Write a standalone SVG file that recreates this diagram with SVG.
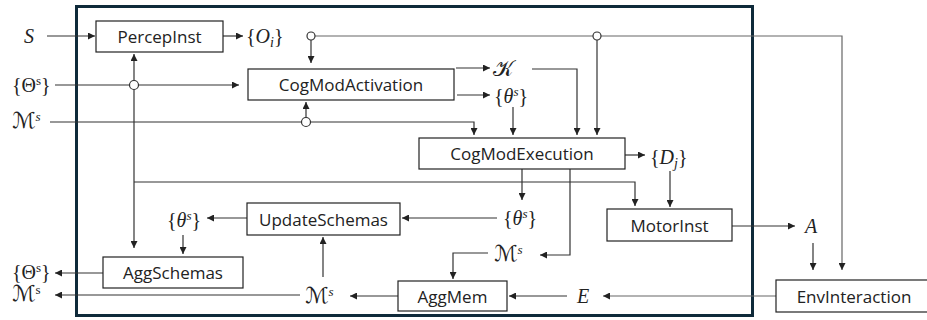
<svg xmlns="http://www.w3.org/2000/svg" width="927" height="320" viewBox="0 0 927 320">
<style>
.box{fill:#fff;stroke:#222;stroke-width:1.2}
.lbl{font-family:"Open Sans","Liberation Sans",sans-serif;font-size:17px;fill:#222;text-anchor:middle;dominant-baseline:central}
.m{font-family:"Liberation Serif","DejaVu Serif",serif;font-size:20px;fill:#222}
.it{font-style:italic}
.sc{font-family:"DejaVu Sans","DejaVu Serif",serif;font-style:normal;font-size:22px}
.sup{font-size:13px}
.c{fill:none;stroke:#333;stroke-width:1.2}
.g{stroke:#666}
.j{fill:#fff;stroke:#333;stroke-width:1.2}
</style>
<defs>
<marker id="ah" markerUnits="userSpaceOnUse" markerWidth="8" markerHeight="7" refX="7" refY="3.5" orient="auto-start-reverse">
<path d="M0,0 L7,3.5 L0,7 z" fill="#222"/>
</marker>
</defs>
<rect x="76.5" y="6.5" width="676" height="309" fill="none" stroke="#0f2a3a" stroke-width="3"/>
<g id="connectors">
<path class="c" d="M47,36 H95" marker-end="url(#ah)"/>
<path class="c" d="M223,36 H243" marker-end="url(#ah)"/>
<path class="c g" d="M311,36 H842 V270" marker-end="url(#ah)"/>
<path class="c" d="M311,40 V63" marker-end="url(#ah)"/>
<path class="c" d="M597,40 V135" marker-end="url(#ah)"/>
<path class="c" d="M55,85 H239" marker-end="url(#ah)"/>
<path class="c" d="M134,54 V248" marker-start="url(#ah)" marker-end="url(#ah)"/>
<path class="c" d="M134,182 H635 V206" marker-end="url(#ah)"/>
<path class="c" d="M50,122 H474 V135" marker-end="url(#ah)"/>
<path class="c" d="M306,118 V102" marker-end="url(#ah)"/>
<path class="c" d="M456,68 H490" marker-end="url(#ah)"/>
<path class="c" d="M457,95 H490" marker-end="url(#ah)"/>
<path class="c" d="M532,69 H577 V135" marker-end="url(#ah)"/>
<path class="c" d="M513,107 V135" marker-end="url(#ah)"/>
<path class="c" d="M625,155 H645" marker-end="url(#ah)"/>
<path class="c" d="M670,171 V207" marker-end="url(#ah)"/>
<path class="c" d="M732,226 H795" marker-end="url(#ah)"/>
<path class="c" d="M813,243 V270" marker-end="url(#ah)"/>
<path class="c g" d="M776,296 H603" marker-end="url(#ah)"/>
<path class="c" d="M567,296 H509" marker-end="url(#ah)"/>
<path class="c" d="M398,296 H350" marker-end="url(#ah)"/>
<path class="c" d="M300,295 H55" marker-end="url(#ah)"/>
<path class="c" d="M323,277 V237" marker-end="url(#ah)"/>
<path class="c" d="M103,273 H55" marker-end="url(#ah)"/>
<path class="c" d="M247,218 H207" marker-end="url(#ah)"/>
<path class="c" d="M183,235 V254" marker-end="url(#ah)"/>
<path class="c" d="M497,218 H402" marker-end="url(#ah)"/>
<path class="c" d="M522,169 V200" marker-end="url(#ah)"/>
<path class="c" d="M570,169 V255 H540" marker-end="url(#ah)"/>
<path class="c" d="M488,253 H453 V279" marker-end="url(#ah)"/>
<circle class="j" cx="311" cy="36" r="4"/>
<circle class="j" cx="597" cy="36" r="4"/>
<circle class="j" cx="134" cy="85" r="4.5"/>
<circle class="j" cx="306" cy="122" r="4.5"/>
</g>
<g id="PercepInst"><rect class="box" x="96" y="21" width="127" height="31"/><text class="lbl" x="159.5" y="36.5">PercepInst</text></g>
<g id="CogModActivation"><rect class="box" x="248" y="69" width="206" height="31"/><text class="lbl" x="351" y="84.5">CogModActivation</text></g>
<g id="CogModExecution"><rect class="box" x="419" y="138" width="206" height="31"/><text class="lbl" x="522" y="153.5">CogModExecution</text></g>
<g id="MotorInst"><rect class="box" x="607" y="209" width="125" height="32"/><text class="lbl" x="669.5" y="225">MotorInst</text></g>
<g id="EnvInteraction"><rect class="box" x="776" y="280" width="160" height="32"/><text class="lbl" x="854" y="296">EnvInteraction</text></g>
<g id="AggMem"><rect class="box" x="398" y="281" width="109" height="30"/><text class="lbl" x="452.5" y="296">AggMem</text></g>
<g id="UpdateSchemas"><rect class="box" x="247" y="203" width="153" height="32"/><text class="lbl" x="323.5" y="219">UpdateSchemas</text></g>
<g id="AggSchemas"><rect class="box" x="103" y="257" width="140" height="31"/><text class="lbl" x="173" y="272.5">AggSchemas</text></g>
<g id="labels">
<text class="m it" x="24" y="43">S</text>
<text class="m" x="246" y="43">{<tspan class="it">O</tspan><tspan class="it" font-size="14" dy="4">i</tspan><tspan dy="-4">}</tspan></text>
<text class="m" x="12" y="92">{Θ<tspan class="sup" dy="-7">s</tspan><tspan dy="7">}</tspan></text>
<text class="m" x="12" y="128"><tspan class="sc">ℳ</tspan><tspan class="sup it" dy="-7">s</tspan></text>
<text class="m" x="493" y="76"><tspan class="sc">𝒦</tspan></text>
<text class="m" x="494" y="103">{<tspan class="it">θ</tspan><tspan class="sup it" dy="-7">s</tspan><tspan dy="7">}</tspan></text>
<text class="m" x="650" y="164">{<tspan class="it">D</tspan><tspan class="it" font-size="14" dy="4">j</tspan><tspan dy="-4">}</tspan></text>
<text class="m it" x="805" y="233">A</text>
<text class="m it" x="577" y="303">E</text>
<text class="m" x="494" y="261"><tspan class="sc">ℳ</tspan><tspan class="sup it" dy="-7">s</tspan></text>
<text class="m" x="503" y="225">{<tspan class="it">θ</tspan><tspan class="sup it" dy="-7">s</tspan><tspan dy="7">}</tspan></text>
<text class="m" x="167" y="227">{<tspan class="it">θ</tspan><tspan class="sup it" dy="-7">s</tspan><tspan dy="7">}</tspan></text>
<text class="m" x="305" y="303"><tspan class="sc">ℳ</tspan><tspan class="sup it" dy="-7">s</tspan></text>
<text class="m" x="12" y="279">{Θ<tspan class="sup" dy="-7">s</tspan><tspan dy="7">}</tspan></text>
<text class="m" x="12" y="301"><tspan class="sc">ℳ</tspan><tspan class="sup" dy="-7">s</tspan></text>
</g>
</svg>
